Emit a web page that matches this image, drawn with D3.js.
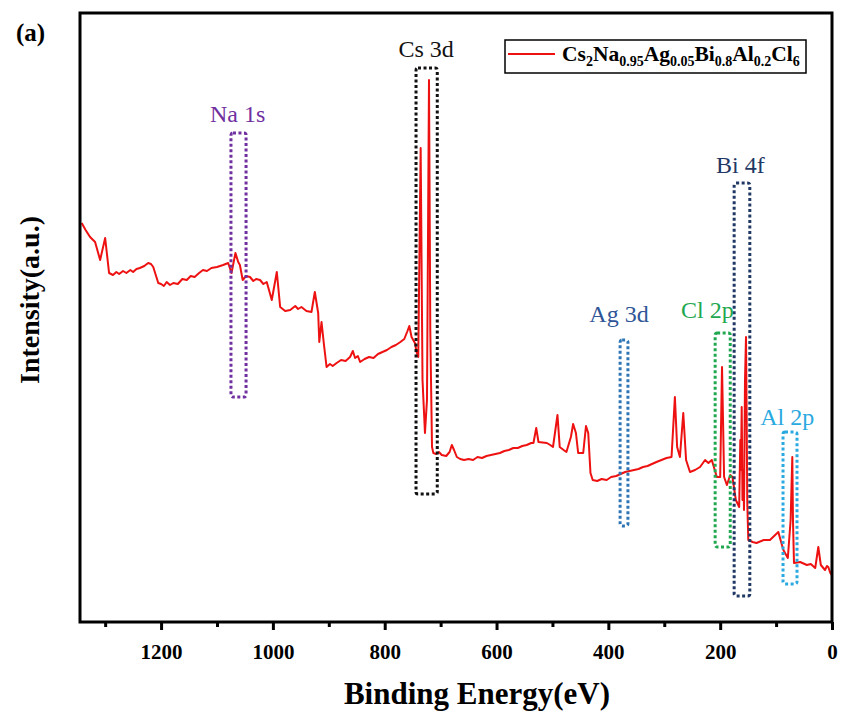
<!DOCTYPE html>
<html>
<head>
<meta charset="utf-8">
<script src="https://cdn.jsdelivr.net/npm/d3@7/dist/d3.min.js"></script>
<style>
  body { margin: 0; background: #fff; }
  svg text { font-family: "Times New Roman", Tinos, "Liberation Serif", "DejaVu Serif", serif; }
</style>
</head>
<body>
<svg id="chart" width="843" height="715"></svg>
<script>
// XPS survey spectrum: [binding energy (eV), intensity (a.u.)]
const spectrum = [
  [1342, 399], [1335, 392], [1327, 385], [1318, 380], [1309, 362], [1300, 384], [1293, 349], [1286, 347],
  [1280, 350], [1275, 348], [1268, 351], [1262, 349], [1255, 352], [1250, 350], [1244, 353], [1238, 354],
  [1230, 356], [1223, 359], [1218, 358], [1214, 355], [1205, 339],
  [1200, 338], [1195, 336], [1190, 340], [1184, 337], [1178, 339], [1170, 338], [1162, 343], [1154, 342],
  [1147, 346], [1140, 345], [1132, 349], [1125, 352], [1118, 351], [1110, 354], [1100, 355], [1089, 357],
  [1080, 359], [1074, 349], [1067, 369], [1062, 360], [1059, 357], [1054, 342], [1048, 346], [1041, 345],
  [1035, 341], [1030, 343], [1023, 342], [1017, 338], [1011, 340], [1002, 322], [993, 350], [987, 315],
  [978, 311], [969, 312], [960, 316], [955, 313], [949, 315], [940, 311], [931, 310],
  [925, 330], [919, 309], [917, 280], [913, 300], [909, 279], [904, 255], [898, 258], [893, 256],
  [886, 259], [878, 262], [870, 261], [862, 265], [857, 271], [853, 264], [848, 266], [844, 260],
  [836, 263], [828, 265], [820, 264], [812, 268], [804, 270], [796, 272], [788, 275], [780, 277],
  [772, 280], [765, 283], [760, 290], [756, 296], [752, 285], [746, 279], [743, 270], [740, 265],
  // Cs 3d
  [735.7, 474], [732.4, 242], [728, 189], [724.4, 222], [720.8, 542], [718.5, 292], [717.2, 242], [715.4, 175],
  [713, 169], [708, 168], [703, 170], [698, 167], [690, 166], [684, 170], [680, 177], [676, 172],
  [671, 165], [665, 163], [658, 162], [650, 163], [642, 162], [634, 165], [626, 164], [618, 166],
  [610, 167], [602, 168], [594, 169], [586, 171], [578, 172], [570, 174], [562, 174], [554, 176],
  [546, 177], [538, 179], [534, 179], [529, 194], [525, 180], [510, 179], [504, 177], [499, 175],
  [491, 207], [487, 175], [480, 172], [475, 170], [467, 185], [463, 198], [458, 189], [454, 169],
  [445, 169], [440, 196], [436, 189], [432, 149], [428, 142], [420, 141], [412, 143], [403, 142],
  [395, 145], [386, 146], [378, 148], [370, 150], [362, 151], [354, 152], [346, 153], [338, 155],
  [330, 156], [322, 158], [314, 160], [305, 162], [296, 164], [287, 165], [281, 225], [277, 175],
  [272, 165], [266, 209], [261, 162], [254, 150], [245, 152], [236, 155], [227, 162], [221, 159],
  [215, 162], [206, 145], [200, 145], [196.7, 255], [193, 145], [188, 137], [182, 147], [178, 145],
  [172, 122], [166, 115],
  // Bi 4f
  [164, 182], [162.8, 152], [161.5, 215], [160.1, 122], [158.6, 152], [157.4, 112], [155.6, 242],
  [153.8, 285], [152.6, 202], [151.5, 119], [149.7, 82],
  [142, 80], [135, 79], [122, 82], [111, 82], [96, 90], [87, 72], [79, 64], [74, 102], [71, 165],
  [69.8, 102], [68, 59], [57, 60], [45, 57], [38, 58], [30, 54], [24.5, 75], [20, 57], [12.5, 52],
  [9, 56], [6.6, 55], [3, 49], [0.5, 47]
];

const majorTicks = [1200, 1000, 800, 600, 400, 200, 0];
const minorTicks = [1300, 1100, 900, 700, 500, 300, 100];

// peak assignment boxes: energy range (eV), intensity range, label
const peakNames = ['Na 1s', 'Cs 3d', 'Ag 3d', 'Cl 2p', 'Bi 4f', 'Al 2p'];
const peakLo = [1048, 706, 365, 182, 147, 62.6];
const peakHi = [1075, 744, 379, 209, 175, 87.6];
const peakTop = [489, 554, 282, 289, 439, 190];
const peakBottom = [225, 128, 96, 75, 26, 38];
const labelAt = [1063, 726, 381, 223, 164, 80];
const labelLevel = [500, 565, 300, 304, 449, 197];
const peakColors = ['#7030a0', '#111111', '#2e75b6', '#1fa84f', '#1f3864', '#2aa9e0'];
const labelColors = ['#7030a0', '#111111', '#2f5597', '#1fa84f', '#1f3864', '#2aa9e0'];

const svg = d3.select('#chart');
const plotL = 80, plotR = 832, plotT = 13, plotB = 622;

const x = d3.scaleLinear().domain([1345, 0]).range([plotL, plotR]);
const y = d3.scaleLinear().domain([0, 609]).range([plotB, plotT]);

// spectrum
svg.append('path')
  .datum(spectrum)
  .attr('fill', 'none')
  .attr('stroke', '#ee1111')
  .attr('stroke-width', 2)
  .attr('stroke-linejoin', 'round')
  .attr('d', d3.line().x(d => x(d[0])).y(d => y(d[1])));

// peak boxes and labels
const peaks = peakNames.map((name, i) => ({
  name, lo: peakLo[i], hi: peakHi[i], t: peakTop[i], b: peakBottom[i],
  at: labelAt[i], level: labelLevel[i], box: peakColors[i], col: labelColors[i]
}));

svg.append('g')
  .selectAll('rect')
  .data(peaks)
  .join('rect')
    .attr('x', d => x(d.hi))
    .attr('y', d => y(d.t))
    .attr('width', d => x(d.lo) - x(d.hi))
    .attr('height', d => y(d.b) - y(d.t))
    .attr('rx', 2)
    .attr('fill', 'none')
    .attr('stroke', d => d.box)
    .attr('stroke-width', 3)
    .attr('stroke-dasharray', '3 2.5');

svg.append('g')
  .selectAll('text')
  .data(peaks)
  .join('text')
    .attr('x', d => x(d.at))
    .attr('y', d => y(d.level))
    .attr('text-anchor', 'middle')
    .attr('font-size', 24)
    .attr('fill', d => d.col)
    .text(d => d.name);

// frame
svg.append('rect')
  .attr('x', plotL).attr('y', plotT)
  .attr('width', plotR - plotL).attr('height', plotB - plotT)
  .attr('fill', 'none')
  .attr('stroke', '#000')
  .attr('stroke-width', 3);

// bottom axis
const axis = svg.append('g')
  .attr('transform', `translate(0,${plotB})`)
  .call(d3.axisBottom(x).tickValues(majorTicks).tickSize(8).tickPadding(14).tickFormat(d3.format('d')));
axis.select('.domain').remove();
axis.selectAll('line').attr('stroke-width', 3);
axis.selectAll('text')
  .attr('font-size', 21)
  .attr('font-weight', 'bold')
  .attr('fill', '#000');

const minor = svg.append('g')
  .attr('transform', `translate(0,${plotB})`)
  .call(d3.axisBottom(x).tickValues(minorTicks).tickSize(5).tickFormat(''));
minor.select('.domain').remove();
minor.selectAll('line').attr('stroke-width', 3);

// axis titles
svg.append('text')
  .attr('x', 477).attr('y', 704)
  .attr('text-anchor', 'middle')
  .attr('font-size', 31)
  .attr('font-weight', 'bold')
  .text('Binding Energy(eV)');

svg.append('text')
  .attr('transform', 'translate(39,300) rotate(-90)')
  .attr('text-anchor', 'middle')
  .attr('font-size', 28)
  .attr('font-weight', 'bold')
  .text('Intensity(a.u.)');

svg.append('text')
  .attr('x', 16).attr('y', 41)
  .attr('font-size', 25)
  .attr('font-weight', 'bold')
  .text('(a)');

// legend
const legend = svg.append('g');
legend.append('rect')
  .attr('x', 505).attr('y', 40).attr('width', 301).attr('height', 33)
  .attr('fill', '#fff').attr('stroke', '#000').attr('stroke-width', 1.5);
legend.append('line')
  .attr('x1', 508).attr('x2', 555).attr('y1', 54).attr('y2', 54)
  .attr('stroke', '#ee1111').attr('stroke-width', 2);

const formula = [['Cs', '2'], ['Na', '0.95'], ['Ag', '0.05'], ['Bi', '0.8'], ['Al', '0.2'], ['Cl', '6']];
const lt = legend.append('text')
  .attr('x', 562).attr('y', 61)
  .attr('font-size', 21.5)
  .attr('font-weight', 'bold');
formula.forEach(([el, sub], i) => {
  lt.append('tspan').attr('dy', i === 0 ? 0 : -5).text(el);
  lt.append('tspan').attr('font-size', 14).attr('dy', 5).text(sub);
});
</script>
</body>
</html>
